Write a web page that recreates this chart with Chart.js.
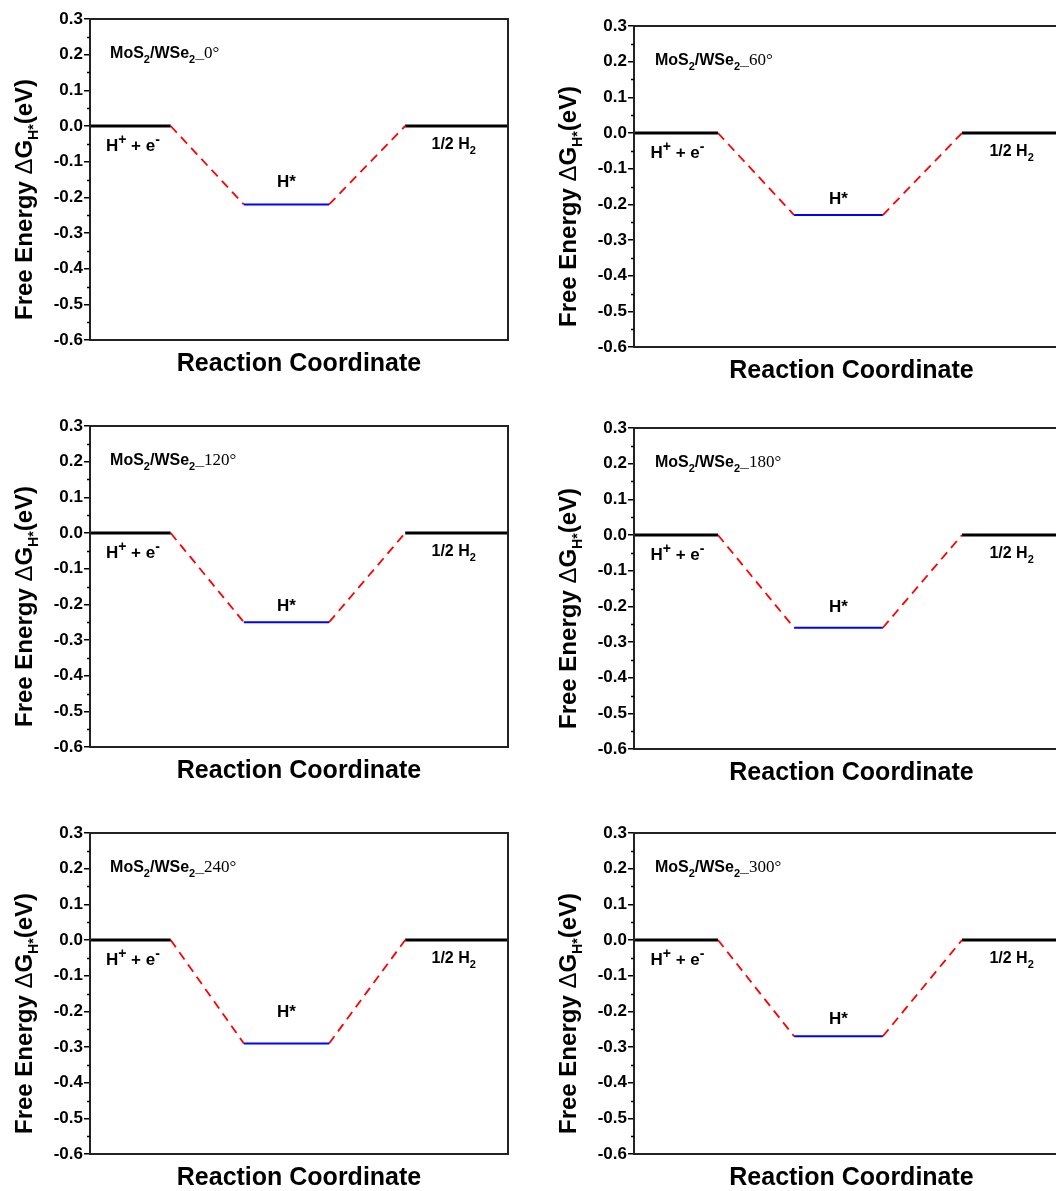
<!DOCTYPE html>
<html>
<head>
<meta charset="utf-8">
<script src="https://cdn.jsdelivr.net/npm/chart.js@4.4.0/dist/chart.umd.min.js"></script>
<style>
html, body { margin: 0; padding: 0; background: #fff; }
body { width: 1056px; height: 1191px; overflow: hidden; position: relative; }
canvas { position: absolute; }
</style>
</head>
<body>
<canvas id="c0"></canvas>
<canvas id="c1"></canvas>
<canvas id="c2"></canvas>
<canvas id="c3"></canvas>
<canvas id="c4"></canvas>
<canvas id="c5"></canvas>
<script>
// stacking angle of each panel
var panelAngles = ['0°', '60°', '120°', '180°', '240°', '300°'];
// free energy levels (eV)
var reactantLevel = [0, 0, 0, 0, 0, 0];               // H+ + e-
var hStarLevel = [-0.22, -0.23, -0.25, -0.26, -0.29, -0.27]; // H*
var productLevel = [0, 0, 0, 0, 0, 0];                // 1/2 H2
// reaction coordinate break points
var stepX = [0, 0.193, 0.368, 0.572, 0.754, 1];
// y tick labels
var yTickValues = [-0.6, -0.5, -0.4, -0.3, -0.2, -0.1, 0, 0.1, 0.2, 0.3];
var yMinorValues = [-0.55, -0.45, -0.35, -0.25, -0.15, -0.05, 0.05, 0.15, 0.25];
// label height for H* (eV)
var hStarLabelY = [-0.17, -0.20, -0.22, -0.215, -0.215, -0.235];

// where the canvases sit on the page
var panelBoxes = [
    {left: 0, top: 0, width: 520},
    {left: 544, top: 7, width: 537},
    {left: 0, top: 407, width: 520},
    {left: 544, top: 409, width: 537},
    {left: 0, top: 814, width: 520},
    {left: 544, top: 814, width: 537}
];

var SANS = '"Liberation Sans", Arial, sans-serif';
var SERIF = '"Liberation Serif", "Times New Roman", serif';

Chart.defaults.font.family = SANS;
Chart.defaults.color = '#000';

function drawRuns(ctx, x, y, runs) {
    runs.forEach(function(r) {
        ctx.font = r.f;
        ctx.fillText(r.t, x, y + (r.dy || 0));
        x += ctx.measureText(r.t).width;
    });
}

function runsWidth(ctx, runs) {
    var w = 0;
    runs.forEach(function(r) {
        ctx.font = r.f;
        w += ctx.measureText(r.t).width;
    });
    return w;
}

var decorPlugin = {
    id: 'decor',
    afterDraw: function(chart) {
        var ctx = chart.ctx;
        var a = chart.chartArea;
        var xs = chart.scales.x;
        var ys = chart.scales.y;
        var i = chart.options.plugins.decor.index;

        ctx.save();

        // frame
        ctx.strokeStyle = '#222';
        ctx.lineWidth = 2;
        ctx.strokeRect(a.left, a.top, a.right - a.left, a.bottom - a.top);

        // minor ticks
        ctx.strokeStyle = '#000';
        ctx.lineWidth = 1.5;
        yMinorValues.forEach(function(v) {
            var py = Math.round(ys.getPixelForValue(v)) + 0.5;
            ctx.beginPath();
            ctx.moveTo(a.left - 3, py);
            ctx.lineTo(a.left, py);
            ctx.stroke();
        });

        ctx.fillStyle = '#000';
        ctx.textBaseline = 'alphabetic';
        ctx.textAlign = 'left';

        var b16 = 'bold 16px ' + SANS;
        var b17 = 'bold 17px ' + SANS;
        var sub = 'bold 11px ' + SANS;
        var sup = 'bold 14px ' + SANS;

        // panel label
        drawRuns(ctx, xs.getPixelForValue(0.048), ys.getPixelForValue(0.19), [
            {t: 'MoS', f: b16}, {t: '2', f: sub, dy: 5},
            {t: '/WSe', f: b16}, {t: '2', f: sub, dy: 5},
            {t: '_', f: b16}, {t: panelAngles[i], f: '17px ' + SERIF}
        ]);

        // H+ + e-
        drawRuns(ctx, xs.getPixelForValue(0.038), ys.getPixelForValue(reactantLevel[i] - 0.07), [
            {t: 'H', f: b17}, {t: '+', f: sup, dy: -7},
            {t: ' + e', f: b17}, {t: '-', f: sup, dy: -7}
        ]);

        // 1/2 H2
        drawRuns(ctx, xs.getPixelForValue(0.817), ys.getPixelForValue(productLevel[i] - 0.065), [
            {t: '1/2 H', f: b16}, {t: '2', f: sub, dy: 5}
        ]);

        // H*
        var hRuns = [{t: 'H*', f: b17}];
        var cx = xs.getPixelForValue((stepX[2] + stepX[3]) / 2);
        drawRuns(ctx, cx - runsWidth(ctx, hRuns) / 2, ys.getPixelForValue(hStarLabelY[i]), hRuns);

        // y axis title
        ctx.translate(a.left - 58, a.bottom - 20);
        ctx.rotate(-Math.PI / 2);
        var b24 = 'bold 24px ' + SANS;
        drawRuns(ctx, 0, 0, [
            {t: 'Free Energy ', f: b24},
            {t: '\u0394', f: '24px ' + SANS},
            {t: 'G', f: b24},
            {t: 'H*', f: 'bold 14px ' + SANS, dy: 6},
            {t: '(eV)', f: b24}
        ]);

        ctx.restore();
    }
};

function segment(x0, y0, x1, y1, color, width, dash) {
    return {
        data: [{x: x0, y: y0}, {x: x1, y: y1}],
        borderColor: color,
        borderWidth: width,
        borderDash: dash || [],
        pointRadius: 0,
        fill: false,
        tension: 0
    };
}

function buildPanel(i) {
    var box = panelBoxes[i];
    var canvas = document.getElementById('c' + i);
    canvas.width = box.width;
    canvas.height = 390;
    canvas.style.left = box.left + 'px';
    canvas.style.top = box.top + 'px';

    var r = reactantLevel[i], h = hStarLevel[i], p = productLevel[i];

    new Chart(canvas.getContext('2d'), {
        type: 'line',
        data: {
            datasets: [
                segment(stepX[0], r, stepX[1], r, '#000000', 3),
                segment(stepX[1], r, stepX[2], h, '#ff0000', 1.8, [9, 6]),
                segment(stepX[2], h, stepX[3], h, '#0000ff', 2),
                segment(stepX[3], h, stepX[4], p, '#ff0000', 1.8, [9, 6]),
                segment(stepX[4], p, stepX[5], p, '#000000', 3)
            ]
        },
        options: {
            responsive: false,
            animation: false,
            layout: { padding: { top: 19, right: 12, bottom: 0, left: 0 } },
            plugins: {
                legend: { display: false },
                tooltip: { enabled: false },
                decor: { index: i }
            },
            scales: {
                x: {
                    type: 'linear',
                    min: 0,
                    max: 1,
                    afterFit: function(s) { s.height = 50; },
                    ticks: { display: false },
                    grid: { display: false },
                    border: { display: false },
                    title: {
                        display: true,
                        text: 'Reaction Coordinate',
                        color: '#000',
                        font: { size: 25, weight: 'bold', family: SANS },
                        padding: { top: 0, bottom: 11 }
                    }
                },
                y: {
                    type: 'linear',
                    min: -0.6,
                    max: 0.3,
                    afterFit: function(s) { s.width = 90; },
                    afterBuildTicks: function(s) {
                        s.ticks = yTickValues.map(function(v) { return {value: v}; });
                    },
                    ticks: {
                        color: '#000',
                        padding: 1,
                        font: { size: 17, weight: 'bold', family: SANS },
                        callback: function(v) {
                            return Math.abs(v) < 1e-9 ? '0.0' : Number(v).toFixed(1);
                        }
                    },
                    grid: {
                        drawOnChartArea: false,
                        drawTicks: true,
                        tickLength: 6,
                        color: '#000',
                        lineWidth: 1.5
                    },
                    border: { display: false }
                }
            }
        },
        plugins: [decorPlugin]
    });
}

for (var k = 0; k < panelAngles.length; k++) {
    buildPanel(k);
}
</script>
</body>
</html>
